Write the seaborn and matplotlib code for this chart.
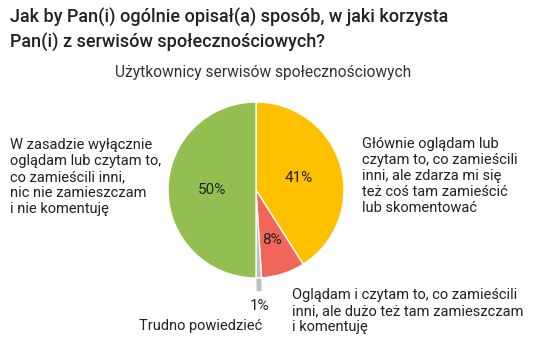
import numpy as np
import seaborn as sns
import matplotlib.pyplot as plt

# data
categories = [
    "Głównie oglądam lub\nczytam to, co zamieścili\ninni, ale zdarza mi się\nteż coś tam zamieścić\nlub skomentować",
    "Oglądam i czytam to, co zamieścili\ninni, ale dużo też tam zamieszczam\ni komentuję",
    "Trudno powiedzieć",
    "W zasadzie wyłącznie\noglądam lub czytam to,\nco zamieścili inni,\nnic nie zamieszczam\ni nie komentuję",
]
shares = [41, 8, 1, 50]
colors = ["#FFC000", "#F26559", "#C0C0C0", "#93BF50"]

sns.set_theme(style="white")
plt.rcParams['font.family'] = ['Roboto', 'DejaVu Sans']

W, H = 534, 352
fig = plt.figure(figsize=(W / 100, H / 100), dpi=100)

def fx(x):
    return x / W

def fy(y):
    return 1 - y / H

# pie axes: centre (256, 190), radius 88 px
cx, cy, r = 256, 190, 88
ax = fig.add_axes([fx(cx - r), fy(cy + r), 2 * r / W, 2 * r / H])
wedges, texts, autotexts = ax.pie(
    shares, colors=colors, startangle=90, counterclock=False,
    autopct="%d%%", pctdistance=0.55,
    wedgeprops=dict(edgecolor="white", linewidth=1),
    textprops=dict(fontsize=11, color="#222222"),
)
ax.set_xlim(-1, 1)
ax.set_ylim(-1, 1)
ax.set_aspect("equal")

# fine-tune percentage label radii
pct_r = [0.5, 0.6, 1.32, 0.5]
for w, t, pr in zip(wedges, autotexts, pct_r):
    mid = np.deg2rad((w.theta1 + w.theta2) / 2)
    t.set_position((pr * np.cos(mid), pr * np.sin(mid)))
    t.set_clip_on(False)

# leader for the tiny slice
w = wedges[2]
mid = np.deg2rad((w.theta1 + w.theta2) / 2)
ax.plot([0.75 * np.cos(mid), 1.15 * np.cos(mid)],
        [0.75 * np.sin(mid), 1.15 * np.sin(mid)],
        color=colors[2], lw=3.5, solid_capstyle="butt", clip_on=False, zorder=0)

# titles
fig.text(fx(10), fy(30), "Jak by Pan(i) ogólnie opisał(a) sposób, w jaki korzysta\nPan(i) z serwisów społecznościowych?",
         fontsize=13, fontweight="medium", color="#222222", ha="left", va="center", linespacing=1.35)
fig.text(fx(263), fy(72), "Użytkownicy serwisów społecznościowych",
         fontsize=11.2, color="#333333", ha="center", va="center")

# category labels
lab_kw = dict(fontsize=10.5, color="#222222", linespacing=1.2)
fig.text(fx(362), fy(176), categories[0], ha="left", va="center", **lab_kw)
fig.text(fx(292), fy(311), categories[1], ha="left", va="center", **lab_kw)
fig.text(fx(262), fy(326), categories[2], ha="right", va="center", **lab_kw)
fig.text(fx(10), fy(177), categories[3], ha="left", va="center", **lab_kw)

fig.savefig("out.png", dpi=100)
